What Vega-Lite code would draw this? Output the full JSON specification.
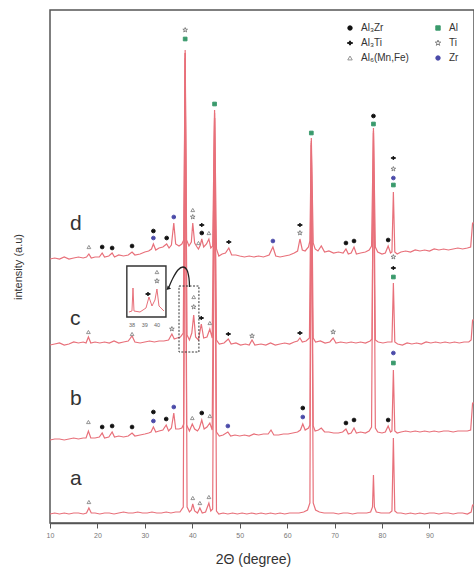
{
"$schema": "https://vega.github.io/schema/vega-lite/v6.json",
"width": 424, "height": 513,
"autosize": "none",
"padding": {"left": 50, "top": 10, "right": 0, "bottom": 47},
"background": "white",
"config": {"view": {"stroke": "#555", "strokeWidth": 1.5}, "font": "Liberation Sans", "axis": {"grid": false}},
"encoding": {
"x": {"field": "x", "type": "quantitative", "scale": {"domain": [10, 99.4], "nice": false, "zero": false},
"axis": {"values": [10,20,30,40,50,60,70,80,90], "title": "2Θ (degree)", "titleFontSize": 14, "titleFontWeight": "normal", "titleColor": "#333", "titlePadding": 14, "titleX": 203, "labelFontSize": 7, "labelColor": "#777", "labelPadding": 3, "labelFlush": false, "tickSize": 5, "tickColor": "#555", "domainColor": "#555", "domainWidth": 1.5}},
"y": {"field": "v", "type": "quantitative", "scale": {"domain": [0, 513], "nice": false},
"axis": {"title": "intensity (a.u)", "domain": false, "ticks": false, "labels": false, "titleFontSize": 11, "titleFontWeight": "normal", "titleColor": "#333", "titlePadding": 27}}
},
"layer": [
{
"data": {"values": [
{"s":"d","x":10,"v":264},{"s":"d","x":11,"v":265},{"s":"d","x":12,"v":264},{"s":"d","x":13,"v":266},{"s":"d","x":14,"v":264},{"s":"d","x":15,"v":265},{"s":"d","x":16,"v":266},{"s":"d","x":17,"v":265},{"s":"d","x":17.7,"v":266},{"s":"d","x":18.2,"v":269},{"s":"d","x":18.7,"v":265},{"s":"d","x":19.5,"v":266},{"s":"d","x":20.4,"v":266},{"s":"d","x":21.0,"v":270},{"s":"d","x":21.5,"v":266},{"s":"d","x":22.4,"v":267},{"s":"d","x":23.1,"v":270},{"s":"d","x":23.6,"v":266},{"s":"d","x":24.5,"v":268},{"s":"d","x":25.5,"v":267},{"s":"d","x":26.5,"v":268},{"s":"d","x":27.3,"v":271},{"s":"d","x":27.9,"v":268},{"s":"d","x":29,"v":269},{"s":"d","x":30,"v":271},{"s":"d","x":30.8,"v":272},{"s":"d","x":31.4,"v":274},{"s":"d","x":31.8,"v":279},{"s":"d","x":32.3,"v":273},{"s":"d","x":33,"v":275},{"s":"d","x":33.8,"v":276},{"s":"d","x":34.6,"v":279},{"s":"d","x":35.1,"v":275},{"s":"d","x":35.6,"v":278},{"s":"d","x":36.1,"v":300},{"s":"d","x":36.5,"v":279},{"s":"d","x":37.2,"v":277},{"s":"d","x":37.8,"v":279},{"s":"d","x":38.2,"v":283},{"s":"d","x":38.5,"v":473},{"s":"d","x":38.8,"v":283},{"s":"d","x":39.3,"v":277},{"s":"d","x":39.8,"v":281},{"s":"d","x":40.1,"v":300},{"s":"d","x":40.5,"v":280},{"s":"d","x":41,"v":276},{"s":"d","x":41.3,"v":274},{"s":"d","x":41.7,"v":278},{"s":"d","x":42.0,"v":284},{"s":"d","x":42.4,"v":276},{"s":"d","x":43.0,"v":279},{"s":"d","x":43.5,"v":284},{"s":"d","x":43.9,"v":275},{"s":"d","x":44.3,"v":277},{"s":"d","x":44.7,"v":413},{"s":"d","x":45.1,"v":274},{"s":"d","x":45.6,"v":267},{"s":"d","x":46.3,"v":269},{"s":"d","x":47.0,"v":270},{"s":"d","x":47.7,"v":275},{"s":"d","x":48.3,"v":268},{"s":"d","x":49.2,"v":268},{"s":"d","x":50,"v":267},{"s":"d","x":51,"v":266},{"s":"d","x":52,"v":267},{"s":"d","x":53,"v":266},{"s":"d","x":54,"v":267},{"s":"d","x":55,"v":266},{"s":"d","x":56.2,"v":268},{"s":"d","x":57.0,"v":276},{"s":"d","x":57.6,"v":267},{"s":"d","x":58.5,"v":266},{"s":"d","x":59.5,"v":267},{"s":"d","x":60.5,"v":268},{"s":"d","x":61.5,"v":270},{"s":"d","x":62.2,"v":272},{"s":"d","x":62.7,"v":284},{"s":"d","x":63.2,"v":273},{"s":"d","x":63.8,"v":272},{"s":"d","x":64.5,"v":276},{"s":"d","x":64.8,"v":282},{"s":"d","x":65.1,"v":385},{"s":"d","x":65.5,"v":280},{"s":"d","x":65.9,"v":274},{"s":"d","x":66.5,"v":272},{"s":"d","x":67.2,"v":277},{"s":"d","x":67.9,"v":271},{"s":"d","x":68.8,"v":272},{"s":"d","x":69.8,"v":270},{"s":"d","x":70.8,"v":271},{"s":"d","x":71.8,"v":270},{"s":"d","x":72.4,"v":274},{"s":"d","x":72.9,"v":269},{"s":"d","x":73.5,"v":270},{"s":"d","x":74.1,"v":276},{"s":"d","x":74.6,"v":269},{"s":"d","x":75.5,"v":270},{"s":"d","x":76.5,"v":271},{"s":"d","x":77.3,"v":273},{"s":"d","x":77.8,"v":277},{"s":"d","x":78.2,"v":395},{"s":"d","x":78.6,"v":276},{"s":"d","x":79.1,"v":271},{"s":"d","x":80,"v":269},{"s":"d","x":80.7,"v":270},{"s":"d","x":81.3,"v":277},{"s":"d","x":81.8,"v":270},{"s":"d","x":82.1,"v":271},{"s":"d","x":82.4,"v":331},{"s":"d","x":82.7,"v":271},{"s":"d","x":83.2,"v":269},{"s":"d","x":84,"v":271},{"s":"d","x":85,"v":272},{"s":"d","x":86,"v":271},{"s":"d","x":87,"v":273},{"s":"d","x":88,"v":272},{"s":"d","x":89,"v":273},{"s":"d","x":90,"v":272},{"s":"d","x":91,"v":274},{"s":"d","x":92,"v":273},{"s":"d","x":93,"v":274},{"s":"d","x":94,"v":273},{"s":"d","x":95,"v":274},{"s":"d","x":96,"v":275},{"s":"d","x":97,"v":274},{"s":"d","x":98,"v":275},{"s":"d","x":98.7,"v":276},{"s":"d","x":99.1,"v":300},{"s":"d","x":99.4,"v":300},
{"s":"c","x":10,"v":178},{"s":"c","x":11,"v":179},{"s":"c","x":12,"v":180},{"s":"c","x":13,"v":178},{"s":"c","x":14,"v":179},{"s":"c","x":15,"v":181},{"s":"c","x":16,"v":180},{"s":"c","x":17,"v":181},{"s":"c","x":17.6,"v":180},{"s":"c","x":18.1,"v":186},{"s":"c","x":18.6,"v":180},{"s":"c","x":19.5,"v":181},{"s":"c","x":20.5,"v":180},{"s":"c","x":21.5,"v":181},{"s":"c","x":22.5,"v":180},{"s":"c","x":23.5,"v":182},{"s":"c","x":24.5,"v":180},{"s":"c","x":25.5,"v":181},{"s":"c","x":26.5,"v":182},{"s":"c","x":27.3,"v":187},{"s":"c","x":27.9,"v":181},{"s":"c","x":29,"v":180},{"s":"c","x":30,"v":181},{"s":"c","x":31,"v":182},{"s":"c","x":32,"v":181},{"s":"c","x":33,"v":182},{"s":"c","x":34,"v":182},{"s":"c","x":35,"v":183},{"s":"c","x":35.7,"v":189},{"s":"c","x":36.2,"v":184},{"s":"c","x":36.8,"v":185},{"s":"c","x":37.5,"v":186},{"s":"c","x":38.1,"v":190},{"s":"c","x":38.5,"v":465},{"s":"c","x":38.9,"v":188},{"s":"c","x":39.4,"v":183},{"s":"c","x":39.9,"v":190},{"s":"c","x":40.3,"v":208},{"s":"c","x":40.7,"v":186},{"s":"c","x":41.3,"v":183},{"s":"c","x":41.9,"v":199},{"s":"c","x":42.4,"v":185},{"s":"c","x":43.1,"v":186},{"s":"c","x":43.7,"v":194},{"s":"c","x":44.2,"v":185},{"s":"c","x":44.7,"v":405},{"s":"c","x":45.1,"v":183},{"s":"c","x":45.7,"v":179},{"s":"c","x":46.7,"v":180},{"s":"c","x":47.6,"v":184},{"s":"c","x":48.2,"v":179},{"s":"c","x":49.2,"v":180},{"s":"c","x":50.2,"v":178},{"s":"c","x":51.2,"v":179},{"s":"c","x":52,"v":178},{"s":"c","x":52.6,"v":183},{"s":"c","x":53.2,"v":178},{"s":"c","x":54.5,"v":179},{"s":"c","x":55.5,"v":178},{"s":"c","x":56.5,"v":180},{"s":"c","x":57.5,"v":178},{"s":"c","x":58.5,"v":179},{"s":"c","x":59.5,"v":180},{"s":"c","x":60.5,"v":179},{"s":"c","x":61.5,"v":181},{"s":"c","x":62.2,"v":182},{"s":"c","x":62.7,"v":185},{"s":"c","x":63.2,"v":181},{"s":"c","x":64,"v":182},{"s":"c","x":64.7,"v":185},{"s":"c","x":65.1,"v":378},{"s":"c","x":65.5,"v":185},{"s":"c","x":66,"v":181},{"s":"c","x":67,"v":182},{"s":"c","x":68,"v":180},{"s":"c","x":69,"v":181},{"s":"c","x":69.7,"v":185},{"s":"c","x":70.3,"v":180},{"s":"c","x":71.3,"v":181},{"s":"c","x":72.5,"v":180},{"s":"c","x":73.5,"v":181},{"s":"c","x":74.5,"v":180},{"s":"c","x":75.5,"v":181},{"s":"c","x":76.5,"v":180},{"s":"c","x":77.5,"v":182},{"s":"c","x":77.9,"v":184},{"s":"c","x":78.2,"v":390},{"s":"c","x":78.6,"v":183},{"s":"c","x":79.2,"v":181},{"s":"c","x":80.2,"v":180},{"s":"c","x":81.2,"v":181},{"s":"c","x":82.1,"v":181},{"s":"c","x":82.4,"v":240},{"s":"c","x":82.7,"v":181},{"s":"c","x":83.3,"v":179},{"s":"c","x":84.3,"v":178},{"s":"c","x":85.3,"v":180},{"s":"c","x":86.3,"v":179},{"s":"c","x":87.3,"v":180},{"s":"c","x":88.3,"v":179},{"s":"c","x":89.3,"v":181},{"s":"c","x":90.3,"v":180},{"s":"c","x":91.3,"v":181},{"s":"c","x":92.3,"v":180},{"s":"c","x":93.3,"v":181},{"s":"c","x":94.3,"v":180},{"s":"c","x":95.3,"v":181},{"s":"c","x":96.3,"v":180},{"s":"c","x":97.3,"v":181},{"s":"c","x":98.3,"v":181},{"s":"c","x":98.8,"v":183},{"s":"c","x":99.1,"v":203},{"s":"c","x":99.4,"v":203},
{"s":"b","x":10,"v":83},{"s":"b","x":11,"v":84},{"s":"b","x":12,"v":84},{"s":"b","x":13,"v":83},{"s":"b","x":14,"v":84},{"s":"b","x":15,"v":85},{"s":"b","x":16,"v":84},{"s":"b","x":17,"v":85},{"s":"b","x":17.6,"v":85},{"s":"b","x":18.1,"v":92},{"s":"b","x":18.6,"v":85},{"s":"b","x":19.5,"v":85},{"s":"b","x":20.4,"v":86},{"s":"b","x":21.0,"v":90},{"s":"b","x":21.5,"v":85},{"s":"b","x":22.4,"v":86},{"s":"b","x":23.1,"v":91},{"s":"b","x":23.6,"v":86},{"s":"b","x":24.5,"v":87},{"s":"b","x":25.5,"v":86},{"s":"b","x":26.5,"v":87},{"s":"b","x":27.3,"v":90},{"s":"b","x":27.9,"v":87},{"s":"b","x":29,"v":88},{"s":"b","x":30,"v":89},{"s":"b","x":30.8,"v":90},{"s":"b","x":31.3,"v":91},{"s":"b","x":31.8,"v":96},{"s":"b","x":32.3,"v":91},{"s":"b","x":33,"v":92},{"s":"b","x":33.8,"v":93},{"s":"b","x":34.5,"v":98},{"s":"b","x":35,"v":92},{"s":"b","x":35.6,"v":95},{"s":"b","x":36.1,"v":110},{"s":"b","x":36.5,"v":94},{"s":"b","x":37.2,"v":94},{"s":"b","x":37.8,"v":95},{"s":"b","x":38.2,"v":99},{"s":"b","x":38.5,"v":470},{"s":"b","x":38.8,"v":98},{"s":"b","x":39.4,"v":92},{"s":"b","x":40.0,"v":99},{"s":"b","x":40.5,"v":94},{"s":"b","x":41.1,"v":92},{"s":"b","x":41.5,"v":95},{"s":"b","x":42.0,"v":103},{"s":"b","x":42.5,"v":94},{"s":"b","x":43.1,"v":96},{"s":"b","x":43.7,"v":100},{"s":"b","x":44.2,"v":93},{"s":"b","x":44.7,"v":410},{"s":"b","x":45.1,"v":91},{"s":"b","x":45.7,"v":87},{"s":"b","x":46.5,"v":88},{"s":"b","x":47.5,"v":91},{"s":"b","x":48.1,"v":87},{"s":"b","x":49,"v":88},{"s":"b","x":50,"v":87},{"s":"b","x":51,"v":88},{"s":"b","x":52,"v":87},{"s":"b","x":53,"v":89},{"s":"b","x":54,"v":88},{"s":"b","x":55,"v":89},{"s":"b","x":56,"v":89},{"s":"b","x":56.6,"v":93},{"s":"b","x":57.2,"v":88},{"s":"b","x":58.2,"v":88},{"s":"b","x":59.2,"v":89},{"s":"b","x":60.2,"v":89},{"s":"b","x":61.2,"v":90},{"s":"b","x":62.2,"v":91},{"s":"b","x":62.8,"v":93},{"s":"b","x":63.3,"v":99},{"s":"b","x":63.8,"v":93},{"s":"b","x":64.5,"v":95},{"s":"b","x":64.8,"v":98},{"s":"b","x":65.1,"v":382},{"s":"b","x":65.5,"v":97},{"s":"b","x":65.9,"v":92},{"s":"b","x":66.6,"v":93},{"s":"b","x":67.2,"v":95},{"s":"b","x":67.9,"v":91},{"s":"b","x":68.8,"v":91},{"s":"b","x":69.8,"v":90},{"s":"b","x":70.8,"v":90},{"s":"b","x":71.7,"v":91},{"s":"b","x":72.4,"v":94},{"s":"b","x":72.9,"v":89},{"s":"b","x":73.5,"v":90},{"s":"b","x":74.1,"v":95},{"s":"b","x":74.6,"v":90},{"s":"b","x":75.5,"v":91},{"s":"b","x":76.5,"v":90},{"s":"b","x":77.3,"v":92},{"s":"b","x":77.8,"v":96},{"s":"b","x":78.2,"v":392},{"s":"b","x":78.6,"v":95},{"s":"b","x":79.1,"v":91},{"s":"b","x":80,"v":90},{"s":"b","x":80.7,"v":91},{"s":"b","x":81.3,"v":97},{"s":"b","x":81.8,"v":91},{"s":"b","x":82.1,"v":92},{"s":"b","x":82.4,"v":153},{"s":"b","x":82.7,"v":92},{"s":"b","x":83.2,"v":90},{"s":"b","x":84,"v":91},{"s":"b","x":85,"v":92},{"s":"b","x":86,"v":91},{"s":"b","x":87,"v":92},{"s":"b","x":88,"v":91},{"s":"b","x":89,"v":92},{"s":"b","x":90,"v":91},{"s":"b","x":91,"v":92},{"s":"b","x":92,"v":91},{"s":"b","x":93,"v":92},{"s":"b","x":94,"v":92},{"s":"b","x":95,"v":91},{"s":"b","x":96,"v":92},{"s":"b","x":97,"v":92},{"s":"b","x":98,"v":92},{"s":"b","x":98.7,"v":93},{"s":"b","x":99.1,"v":120},{"s":"b","x":99.4,"v":120},
{"s":"a","x":10,"v":9},{"s":"a","x":11,"v":10},{"s":"a","x":12,"v":9},{"s":"a","x":13,"v":10},{"s":"a","x":14,"v":9},{"s":"a","x":15,"v":10},{"s":"a","x":16,"v":10},{"s":"a","x":17,"v":9},{"s":"a","x":17.7,"v":10},{"s":"a","x":18.2,"v":15},{"s":"a","x":18.7,"v":10},{"s":"a","x":19.5,"v":10},{"s":"a","x":20.5,"v":9},{"s":"a","x":21.5,"v":10},{"s":"a","x":22.5,"v":10},{"s":"a","x":23.5,"v":9},{"s":"a","x":24.5,"v":10},{"s":"a","x":25.5,"v":11},{"s":"a","x":26.5,"v":10},{"s":"a","x":27.5,"v":10},{"s":"a","x":28.5,"v":11},{"s":"a","x":29.5,"v":10},{"s":"a","x":30.5,"v":10},{"s":"a","x":31.5,"v":11},{"s":"a","x":32.5,"v":10},{"s":"a","x":33.5,"v":10},{"s":"a","x":34.5,"v":11},{"s":"a","x":35.5,"v":10},{"s":"a","x":36.5,"v":11},{"s":"a","x":37.4,"v":11},{"s":"a","x":38.1,"v":16},{"s":"a","x":38.5,"v":470},{"s":"a","x":38.9,"v":16},{"s":"a","x":39.4,"v":11},{"s":"a","x":39.8,"v":13},{"s":"a","x":40.1,"v":19},{"s":"a","x":40.5,"v":12},{"s":"a","x":41.1,"v":10},{"s":"a","x":41.6,"v":15},{"s":"a","x":42.1,"v":10},{"s":"a","x":42.8,"v":11},{"s":"a","x":43.5,"v":20},{"s":"a","x":43.9,"v":12},{"s":"a","x":44.3,"v":14},{"s":"a","x":44.7,"v":405},{"s":"a","x":45.1,"v":12},{"s":"a","x":45.6,"v":9},{"s":"a","x":46.5,"v":10},{"s":"a","x":47.5,"v":9},{"s":"a","x":48.5,"v":10},{"s":"a","x":49.5,"v":9},{"s":"a","x":50.5,"v":10},{"s":"a","x":51.5,"v":9},{"s":"a","x":52.5,"v":10},{"s":"a","x":53.5,"v":9},{"s":"a","x":54.5,"v":10},{"s":"a","x":55.5,"v":9},{"s":"a","x":56.5,"v":10},{"s":"a","x":57.5,"v":9},{"s":"a","x":58.5,"v":10},{"s":"a","x":59.5,"v":9},{"s":"a","x":60.5,"v":10},{"s":"a","x":61.5,"v":10},{"s":"a","x":62.5,"v":10},{"s":"a","x":63.5,"v":11},{"s":"a","x":64.3,"v":13},{"s":"a","x":64.8,"v":20},{"s":"a","x":65.1,"v":380},{"s":"a","x":65.5,"v":20},{"s":"a","x":66,"v":13},{"s":"a","x":66.8,"v":11},{"s":"a","x":67.8,"v":10},{"s":"a","x":68.8,"v":10},{"s":"a","x":69.8,"v":10},{"s":"a","x":70.8,"v":9},{"s":"a","x":71.8,"v":10},{"s":"a","x":72.8,"v":10},{"s":"a","x":73.8,"v":9},{"s":"a","x":74.8,"v":10},{"s":"a","x":75.8,"v":10},{"s":"a","x":76.8,"v":10},{"s":"a","x":77.6,"v":11},{"s":"a","x":78.0,"v":16},{"s":"a","x":78.2,"v":48},{"s":"a","x":78.4,"v":16},{"s":"a","x":78.8,"v":11},{"s":"a","x":79.8,"v":10},{"s":"a","x":80.8,"v":10},{"s":"a","x":81.6,"v":10},{"s":"a","x":82.1,"v":12},{"s":"a","x":82.4,"v":85},{"s":"a","x":82.7,"v":12},{"s":"a","x":83.2,"v":10},{"s":"a","x":84,"v":10},{"s":"a","x":85,"v":9},{"s":"a","x":86,"v":10},{"s":"a","x":87,"v":9},{"s":"a","x":88,"v":10},{"s":"a","x":89,"v":9},{"s":"a","x":90,"v":10},{"s":"a","x":91,"v":10},{"s":"a","x":92,"v":9},{"s":"a","x":93,"v":10},{"s":"a","x":94,"v":10},{"s":"a","x":95,"v":9},{"s":"a","x":96,"v":10},{"s":"a","x":97,"v":10},{"s":"a","x":98,"v":9},{"s":"a","x":98.8,"v":11},{"s":"a","x":99.1,"v":18},{"s":"a","x":99.4,"v":18}
]},
"mark": {"type": "line", "color": "#e8707a", "strokeWidth": 1.2},
"encoding": {"detail": {"field": "s", "type": "nominal"}}
},
{
"data": {"values": [{"x":10},{"x":11},{"x":12},{"x":13},{"x":14},{"x":15},{"x":16},{"x":17},{"x":18},{"x":19},{"x":20},{"x":21},{"x":22},{"x":23},{"x":24},{"x":25},{"x":26},{"x":27},{"x":28},{"x":29},{"x":30},{"x":31},{"x":32},{"x":33},{"x":34},{"x":35},{"x":36},{"x":37},{"x":38},{"x":39},{"x":40},{"x":41},{"x":42},{"x":43},{"x":44},{"x":45},{"x":46},{"x":47},{"x":48},{"x":49},{"x":50},{"x":51},{"x":52},{"x":53},{"x":54},{"x":55},{"x":56},{"x":57},{"x":58},{"x":59},{"x":60},{"x":61},{"x":62},{"x":63},{"x":64},{"x":65},{"x":66},{"x":67},{"x":68},{"x":69},{"x":70},{"x":71},{"x":72},{"x":73},{"x":74},{"x":75},{"x":76},{"x":77},{"x":78},{"x":79},{"x":80},{"x":81},{"x":82},{"x":83},{"x":84},{"x":85},{"x":86},{"x":87},{"x":88},{"x":89},{"x":90},{"x":91},{"x":92},{"x":93},{"x":94},{"x":95},{"x":96},{"x":97},{"x":98},{"x":99}]},
"mark": {"type": "tick", "orient": "vertical", "color": "#666", "thickness": 0.8, "size": 5, "opacity": 1},
"encoding": {"y": {"datum": 0, "type": "quantitative"}}
},
{
"data": {"values": [{"x": 26.2, "x2": 34.45, "v": 257, "v2": 206}]},
"mark": {"type": "rect", "fill": "white", "stroke": "#333", "strokeWidth": 1.4},
"encoding": {"x2": {"field": "x2"}, "y2": {"field": "v2"}}
},
{
"data": {"values": [{"x": 37.2, "x2": 41.4, "v": 237, "v2": 171}]},
"mark": {"type": "rect", "fillOpacity": 0, "stroke": "#333", "strokeWidth": 1, "strokeDash": [2, 1.5]},
"encoding": {"x2": {"field": "x2"}, "y2": {"field": "v2"}}
},
{
"data": {"values": [{"x":26.65,"v":211},{"x":27.28,"v":212},{"x":27.5,"v":235},{"x":27.71,"v":212},{"x":28.97,"v":211},{"x":30.24,"v":215},{"x":30.87,"v":226},{"x":31.5,"v":217},{"x":32.13,"v":223},{"x":32.55,"v":234},{"x":32.98,"v":217},{"x":34.03,"v":212}]},
"mark": {"type": "line", "color": "#e8707a", "strokeWidth": 1}
},
{
"data": {"values": [{"x":39.41,"v":236},{"x":39.3,"v":245},{"x":38.88,"v":253},{"x":38.04,"v":256},{"x":36.98,"v":253},{"x":35.93,"v":245},{"x":35.08,"v":236}]},
"mark": {"type": "line", "color": "#222", "strokeWidth": 1.3, "interpolate": "cardinal"}
},
{
"data": {"values": [{"x": 34.87, "v": 234.5}]},
"mark": {"type": "point", "shape": "triangle-down", "angle": 45, "size": 22, "filled": true, "color": "#222", "opacity": 1}
},
{
"data": {"values": [
{"p":"Al₆(Mn,Fe)","x":18.2,"v":276},{"p":"Al₃Zr","x":21.0,"v":276},{"p":"Al₃Zr","x":23.1,"v":275},{"p":"Al₃Zr","x":27.3,"v":277},{"p":"Al₃Zr","x":31.8,"v":292},{"p":"Zr","x":31.8,"v":285},{"p":"Al₃Zr","x":34.6,"v":285},{"p":"Zr","x":36.1,"v":306},{"p":"Ti","x":38.5,"v":493},{"p":"Al","x":38.5,"v":484},{"p":"Al₆(Mn,Fe)","x":40.1,"v":313},{"p":"Ti","x":40.1,"v":306},{"p":"Al₆(Mn,Fe)","x":41.3,"v":280},{"p":"Al₃Ti","x":42.0,"v":298},{"p":"Al₃Zr","x":42.0,"v":290},{"p":"Al₆(Mn,Fe)","x":43.5,"v":290},{"p":"Al","x":44.7,"v":419},{"p":"Al₃Ti","x":47.7,"v":281},{"p":"Zr","x":57.0,"v":282},{"p":"Al₃Ti","x":62.7,"v":298},{"p":"Ti","x":62.7,"v":290},{"p":"Al","x":65.1,"v":390},{"p":"Al₃Zr","x":72.4,"v":280},{"p":"Al₃Zr","x":74.1,"v":282},{"p":"Al₃Zr","x":78.2,"v":407},{"p":"Al","x":78.2,"v":399},{"p":"Al₃Zr","x":81.3,"v":283},{"p":"Al₃Ti","x":82.4,"v":365},{"p":"Ti","x":82.4,"v":354},{"p":"Zr","x":82.4,"v":345},{"p":"Al","x":82.4,"v":338},
{"p":"Al₆(Mn,Fe)","x":18.1,"v":191},{"p":"Al₆(Mn,Fe)","x":27.3,"v":189},{"p":"Ti","x":35.7,"v":194},{"p":"Al₆(Mn,Fe)","x":40.3,"v":226},{"p":"Ti","x":40.3,"v":216},{"p":"Al₃Ti","x":41.9,"v":205},{"p":"Al₆(Mn,Fe)","x":43.7,"v":200},{"p":"Al₃Ti","x":47.6,"v":189},{"p":"Ti","x":52.6,"v":187},{"p":"Al₃Ti","x":62.7,"v":190},{"p":"Ti","x":69.7,"v":191},{"p":"Ti","x":82.4,"v":266},{"p":"Al₃Ti","x":82.4,"v":255},{"p":"Al","x":82.4,"v":246},
{"p":"Al₆(Mn,Fe)","x":18.1,"v":101},{"p":"Al₃Zr","x":21.0,"v":96},{"p":"Al₃Zr","x":23.1,"v":97},{"p":"Al₃Zr","x":27.3,"v":96},{"p":"Al₃Zr","x":31.8,"v":111},{"p":"Zr","x":31.8,"v":102},{"p":"Al₃Zr","x":34.5,"v":104},{"p":"Zr","x":36.1,"v":116},{"p":"Al₆(Mn,Fe)","x":40.0,"v":105},{"p":"Al₃Zr","x":42.0,"v":110},{"p":"Al₆(Mn,Fe)","x":43.7,"v":107},{"p":"Zr","x":47.5,"v":97},{"p":"Al₃Zr","x":63.3,"v":115},{"p":"Zr","x":63.3,"v":106},{"p":"Al₃Zr","x":72.4,"v":100},{"p":"Al₃Zr","x":74.1,"v":103},{"p":"Al₃Zr","x":81.3,"v":103},{"p":"Zr","x":82.4,"v":170},{"p":"Al","x":82.4,"v":160},
{"p":"Al₆(Mn,Fe)","x":18.2,"v":21},{"p":"Al₆(Mn,Fe)","x":40.1,"v":25},{"p":"Al₆(Mn,Fe)","x":41.6,"v":20},{"p":"Al₆(Mn,Fe)","x":43.5,"v":26},
{"p":"Al₆(Mn,Fe)","x":32.55,"v":251},{"p":"Ti","x":32.55,"v":242},{"p":"Al₃Ti","x":30.66,"v":229}
]},
"mark": {"type": "point", "filled": true, "opacity": 1, "strokeWidth": 0.9, "size": 14},
"encoding": {
"shape": {"field": "p", "type": "nominal",
"scale": {"domain": ["Al₃Zr","Al₃Ti","Al₆(Mn,Fe)","Al","Ti","Zr"], "range": ["circle","M-1.3,0L-0.4,-0.35L0,-1L0.4,-0.35L1.3,0L0.4,0.35L0,1L-0.4,0.35Z","triangle-up","square","M0,-1.3L0.31,-0.42L1.24,-0.4L0.49,0.16L0.76,1.05L0,0.52L-0.76,1.05L-0.49,0.16L-1.24,-0.4L-0.31,-0.42Z","circle"]},
"legend": {"orient": "none", "legendX": 295, "legendY": 13, "columns": 2, "title": null, "labelFont": "Liberation Sans", "labelFontSize": 10, "labelColor": "#333", "columnPadding": 24, "rowPadding": 5, "labelOffset": 6, "padding": 0, "symbolSize": 20, "symbolStrokeWidth": 0.9}},
"fill": {"field": "p", "type": "nominal", "scale": {"domain": ["Al₃Zr","Al₃Ti","Al₆(Mn,Fe)","Al","Ti","Zr"], "range": ["#111111","#111111","#ffffff","#3a9a6c","#ffffff","#4a4aa8"]}},
"stroke": {"field": "p", "type": "nominal", "scale": {"domain": ["Al₃Zr","Al₃Ti","Al₆(Mn,Fe)","Al","Ti","Zr"], "range": ["#111111","#111111","#888888","#3a9a6c","#777777","#4a4aa8"]}}
}
},
{
"data": {"values": [{"t": "d", "x": 14.2, "v": 293}, {"t": "c", "x": 14.2, "v": 198}, {"t": "b", "x": 14.2, "v": 118}, {"t": "a", "x": 14.2, "v": 38}]},
"mark": {"type": "text", "align": "left", "baseline": "alphabetic", "fontSize": 21, "color": "#333", "font": "Liberation Sans"},
"encoding": {"text": {"field": "t"}}
},
{
"data": {"values": [{"t": "38", "x": 27.3, "v": 198}, {"t": "39", "x": 30.0, "v": 198}, {"t": "40", "x": 32.55, "v": 198}]},
"mark": {"type": "text", "align": "center", "baseline": "middle", "fontSize": 5.5, "color": "#666", "font": "Liberation Sans"},
"encoding": {"text": {"field": "t"}}
}
]
}
